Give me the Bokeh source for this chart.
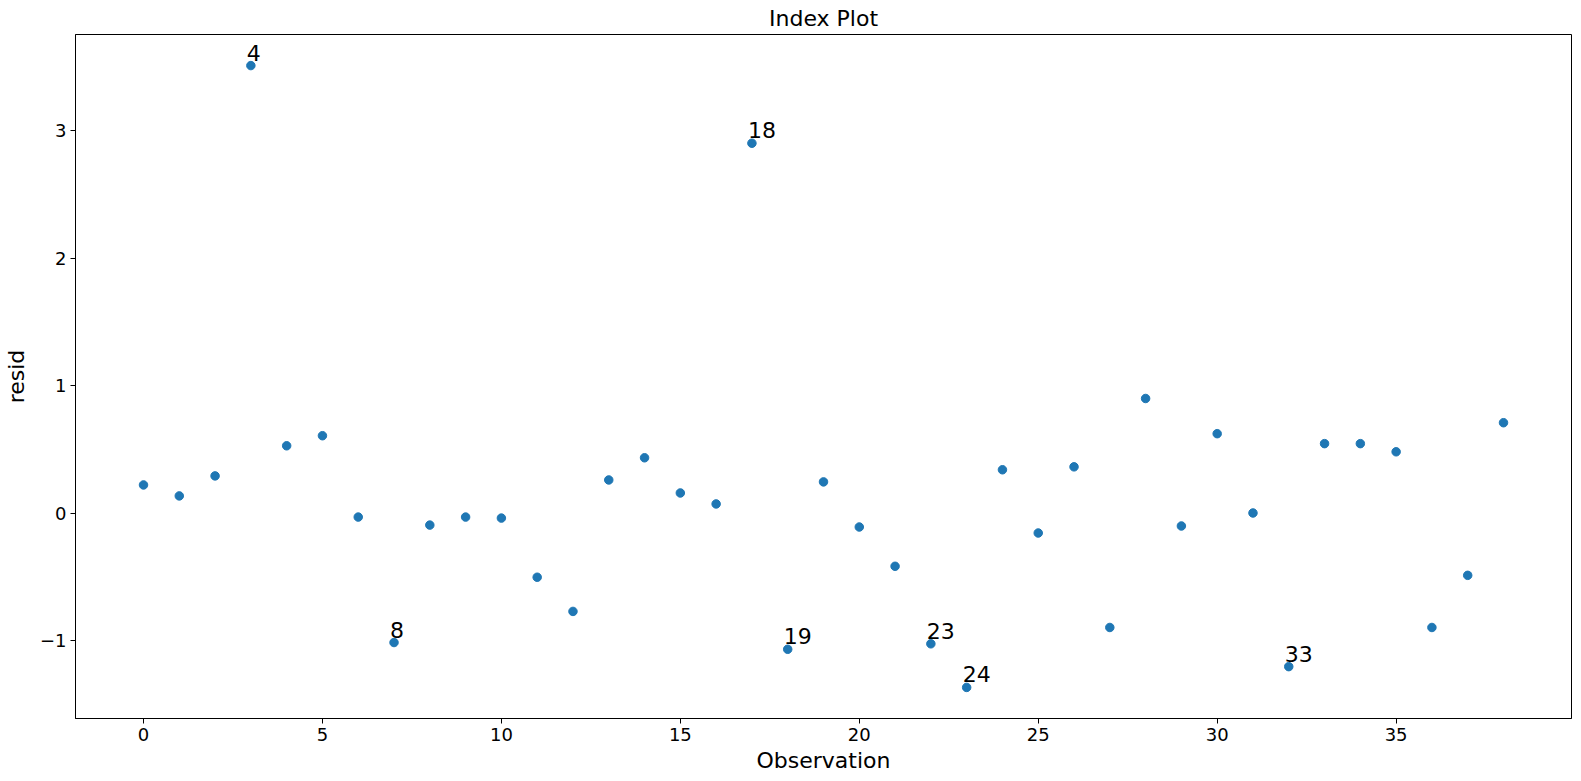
from bokeh.plotting import figure
from bokeh.models import ColumnDataSource, FixedTicker, Range1d
from bokeh.embed import file_html
from bokeh.resources import INLINE
from bokeh.core.properties import value

# Data
observation = list(range(39))
resid = [0.222, 0.136, 0.293, 3.511, 0.529, 0.608, -0.030, -1.014, -0.093, -0.030,
         -0.038, -0.502, -0.770, 0.261, 0.435, 0.159, 0.073, 2.902, -1.067, 0.246,
         -0.108, -0.416, -1.024, -1.366, 0.341, -0.155, 0.364, -0.896, 0.900, -0.100,
         0.624, 0.002, -1.203, 0.546, 0.546, 0.482, -0.896, -0.487, 0.710]
label_index = [3, 17, 7, 18, 22, 23, 32]
label_text = ["4", "18", "8", "19", "23", "24", "33"]

x_ticks = [0, 5, 10, 15, 20, 25, 30, 35]
y_ticks = [-1, 0, 1, 2, 3]
y_tick_labels = {-1: "\u22121", 0: "0", 1: "1", 2: "2", 3: "3"}

FONT = "DejaVu Sans"

xmin, xmax = min(observation), max(observation)
ymin, ymax = min(resid), max(resid)
xpad = (xmax - xmin) * 0.05
ypad = (ymax - ymin) * 0.05

p = figure(width=1580, height=780, output_backend="svg", toolbar_location=None,
           x_range=Range1d(xmin - xpad, xmax + xpad),
           y_range=Range1d(ymin - ypad, ymax + ypad),
           min_border_left=75, min_border_right=9, min_border_top=34, min_border_bottom=62,
           title="Index Plot")

p.title.text_font = FONT
p.title.text_font_size = "22px"
p.title.text_font_style = "normal"
p.title.text_color = "black"
p.title.align = "center"
p.title.standoff = 7

p.grid.visible = False
p.outline_line_color = "black"
p.outline_line_width = 1
p.outline_line_alpha = 1.0
p.background_fill_color = "white"
p.border_fill_color = "white"

for ax in (p.xaxis[0], p.yaxis[0]):
    ax.axis_line_color = "black"
    ax.major_tick_line_color = "black"
    ax.major_tick_out = 5
    ax.major_tick_in = 0
    ax.minor_tick_line_color = None
    ax.major_label_text_font = FONT
    ax.major_label_text_font_size = "18px"
    ax.major_label_text_color = "black"
    ax.axis_label_text_font = FONT
    ax.axis_label_text_font_size = "22px"
    ax.axis_label_text_font_style = "normal"
    ax.axis_label_text_color = "black"

p.xaxis.ticker = FixedTicker(ticks=x_ticks)
p.yaxis.ticker = FixedTicker(ticks=y_ticks)
p.yaxis.major_label_overrides = y_tick_labels
p.xaxis.axis_label = "Observation"
p.yaxis.axis_label = "resid"
p.xaxis.major_label_standoff = 4
p.yaxis.major_label_standoff = 4
p.xaxis.axis_label_standoff = 4
p.yaxis.axis_label_standoff = 8

src = ColumnDataSource(dict(x=observation, y=resid))
p.scatter("x", "y", source=src, size=8.5, fill_color="#1f77b4", line_color="#1f77b4")

lab_src = ColumnDataSource(dict(
    x=[observation[i] for i in label_index],
    y=[resid[i] for i in label_index],
    t=label_text,
))
p.text("x", "y", text="t", source=lab_src, text_font=value(FONT), text_font_size="22px",
       text_align="left", text_baseline="alphabetic", text_color="black",
       x_offset=-4, y_offset=-13)

open("out.html", "w").write(file_html(p, INLINE))
